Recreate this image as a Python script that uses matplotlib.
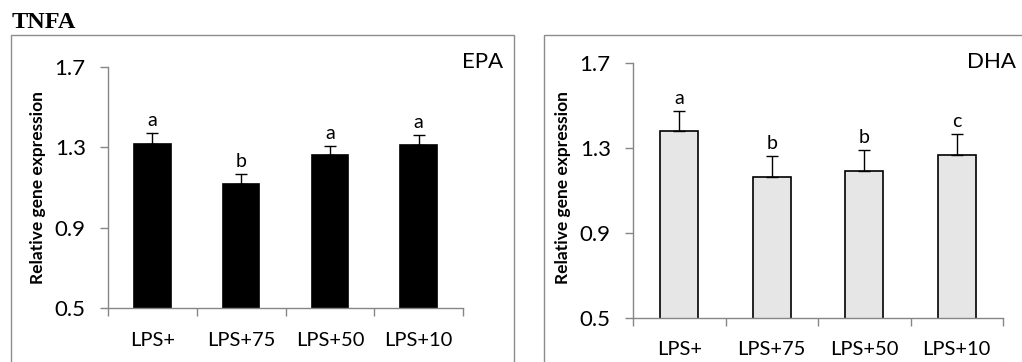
import matplotlib
matplotlib.use("Agg")
import matplotlib.pyplot as plt
from matplotlib.patches import Rectangle
import numpy as np

categories = ["LPS+", "LPS+75", "LPS+50", "LPS+10"]
epa_values = [1.318, 1.119, 1.259, 1.310]
epa_errors = [0.050, 0.048, 0.048, 0.050]
epa_letters = ["a", "b", "a", "a"]
dha_values = [1.377, 1.160, 1.189, 1.266]
dha_errors = [0.097, 0.100, 0.099, 0.097]
dha_letters = ["a", "b", "b", "c"]
yticks = [0.5, 0.9, 1.3, 1.7]
ytick_labels = ["0.5", "0.9", "1.3", "1.7"]

W, H = 1022, 362
fig = plt.figure(figsize=(W / 100, H / 100), dpi=100)
plt.rcParams['font.family'] = ['Lato', 'DejaVu Sans']

gray = "#868686"

# outer boxes
fig.patches.append(Rectangle((11 / W, -0.05), (513.5 - 11) / W, 1.05 - 35 / H,
                             transform=fig.transFigure, fill=False,
                             edgecolor="#8c8c8c", linewidth=1.0))
fig.patches.append(Rectangle((544 / W, -0.05), 0.5, 1.05 - 35 / H,
                             transform=fig.transFigure, fill=False,
                             edgecolor="#8c8c8c", linewidth=1.0))

fig.text(12 / W, 1 - 22 / H, "TNFA", family="Liberation Serif", fontweight="bold",
         fontsize=17.5, va="center", ha="left")


def panel(rect, values, errors, letters, color, label, label_xy, ylab_x):
    ax = fig.add_axes(rect)
    x = np.arange(len(categories))
    ax.bar(x, values, width=0.41, color=color, edgecolor="black", linewidth=1.2,
           zorder=2)
    ax.errorbar(x, values, yerr=[np.zeros(len(errors)), errors], fmt="none",
                ecolor="black", elinewidth=1.0, capsize=4.5, capthick=1.0, zorder=3)
    for xi, v, e, t in zip(x, values, errors, letters):
        ax.annotate(t, (xi, v + e), xytext=(0, 3), textcoords="offset points",
                    ha="center", va="bottom", fontsize=14)
    ax.set_ylim(0.5, 1.7)
    ax.set_xlim(-0.5, len(categories) - 0.5)
    ax.set_yticks(yticks)
    ax.set_yticklabels(ytick_labels)
    ax.set_xticks(x)
    ax.set_xticklabels(categories)
    ax.set_xticks(np.arange(-0.5, len(categories)), minor=True)
    ax.tick_params(axis="x", which="major", length=0, pad=17, labelsize=14.5)
    ax.tick_params(axis="x", which="minor", length=6, color=gray, width=1.0)
    ax.tick_params(axis="y", length=6, color=gray, width=1.0, pad=10, labelsize=16)
    for s in ("top", "right"):
        ax.spines[s].set_visible(False)
    for s in ("left", "bottom"):
        ax.spines[s].set_color(gray)
        ax.spines[s].set_linewidth(1.0)
    ax.patch.set_alpha(0)
    fig.text(label_xy[0] / W, 1 - label_xy[1] / H, label, fontsize=16,
             ha="right", va="center")
    fig.text(ylab_x / W, 1 - 188 / H, "Relative gene expression",
             rotation=90, fontsize=12.5, fontweight="bold", ha="center", va="center")
    return ax


panel([108 / W, 1 - 308 / H, 355 / W, (308 - 66.7) / H], epa_values, epa_errors,
      epa_letters, "black", "EPA", (503, 62), 38)
panel([633 / W, 1 - 317.7 / H, 370 / W, (317.7 - 62.7) / H], dha_values, dha_errors,
      dha_letters, "#e6e6e6", "DHA", (1016, 62), 563)

fig.savefig("out.png", dpi=100)
